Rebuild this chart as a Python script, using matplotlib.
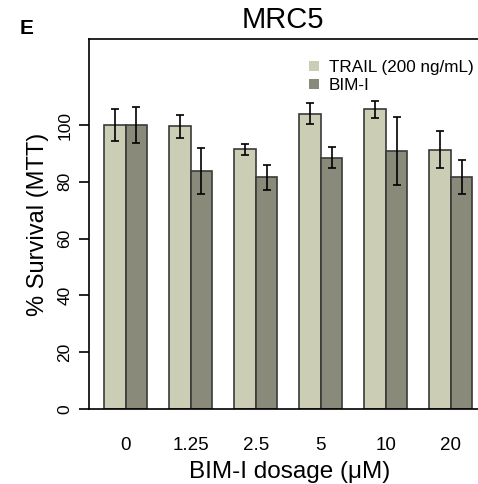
import numpy as np
import matplotlib
matplotlib.use("Agg")
import matplotlib.pyplot as plt

plt.rcParams['font.family'] = ['Liberation Sans', 'DejaVu Sans']

# data
doses = ["0", "1.25", "2.5", "5", "10", "20"]
trail = [100, 99.5, 91.5, 104, 105.5, 91.3]
trail_err = [5.6, 3.9, 1.9, 3.8, 3.0, 6.5]
bimi = [100, 83.8, 81.6, 88.5, 91.0, 81.6]
bimi_err = [6.3, 8.0, 4.5, 3.8, 12.0, 6.0]

light = "#cccdb5"
dark = "#8a8a7a"
edge = "#3a3a3a"

fig = plt.figure(figsize=(4.78, 4.84), dpi=100)
ax = fig.add_axes([89 / 478, 75 / 484, 401 / 478, 370 / 484])

# R style barplot: each group has one empty bar before it
left = np.arange(len(doses)) * 3 + 1
ax.bar(left, trail, width=1, align='edge', color=light, edgecolor=edge,
       linewidth=1.2, label="TRAIL (200 ng/mL)", zorder=2)
ax.bar(left + 1, bimi, width=1, align='edge', color=dark, edgecolor=edge,
       linewidth=1.2, label="BIM-I", zorder=2)
ax.errorbar(left + 0.5, trail, yerr=trail_err, fmt='none', ecolor='black',
            elinewidth=1.2, capsize=3, capthick=1.2, zorder=3)
ax.errorbar(left + 1.5, bimi, yerr=bimi_err, fmt='none', ecolor='black',
            elinewidth=1.2, capsize=3, capthick=1.2, zorder=3)

ax.set_xlim(0.31, 18.81)
ax.set_ylim(0, 130.3)
ax.set_yticks([0, 20, 40, 60, 80, 100])
ax.set_xticks(left + 1)
ax.set_xticklabels(doses)
ax.tick_params(axis='x', length=0, pad=20, labelsize=13.5)
ax.tick_params(axis='y', length=7, width=1.2, pad=5, labelsize=12.5, labelrotation=90)
for lab in ax.get_yticklabels():
    lab.set_verticalalignment('center')
for s in ax.spines.values():
    s.set_linewidth(1.2)

ax.set_xlabel("BIM-I dosage (μM)", fontsize=17.5, labelpad=5)
ax.set_ylabel("% Survival (MTT)", fontsize=17, labelpad=6)

leg = ax.legend(loc='upper right', bbox_to_anchor=(0.985, 0.97), frameon=False,
                fontsize=12.3, handlelength=0.55, handleheight=0.55,
                handletextpad=0.6, labelspacing=0.15, borderaxespad=0.2)
for h in leg.legend_handles:
    h.set_edgecolor('none')

fig.text(283 / 478, 1 - 20 / 484, "MRC5", fontsize=21, ha='center', va='center')
fig.text(20 / 478, 1 - 28 / 484, "E", fontsize=15, fontweight='bold',
         ha='left', va='center')

fig.savefig("out.png", dpi=100)
